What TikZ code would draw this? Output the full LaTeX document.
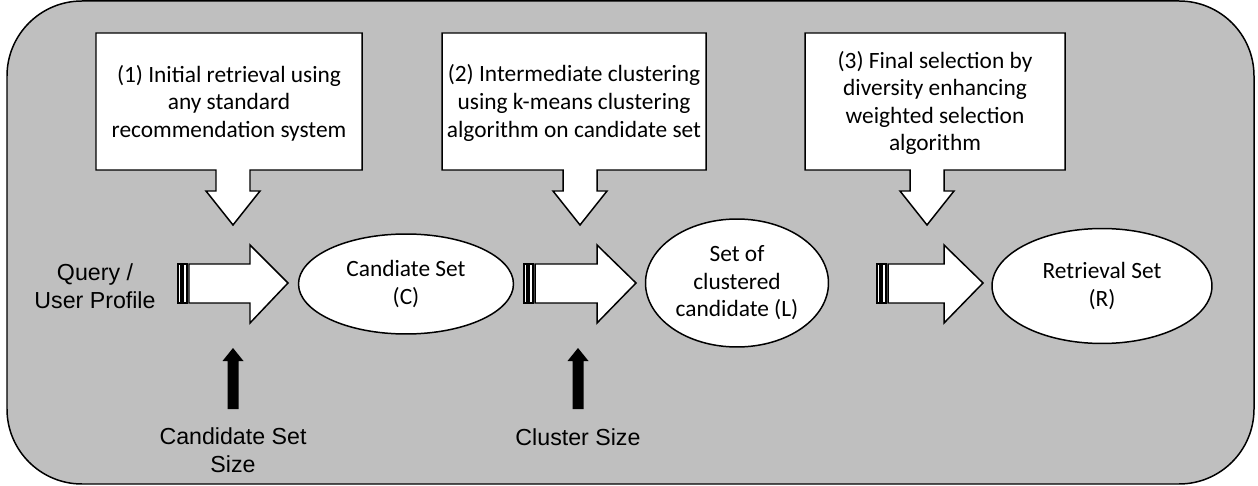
\documentclass[tikz,border=0pt]{standalone}
\usepackage{fontspec}
\setmainfont{Carlito}
\newfontfamily\arialf{Liberation Sans}
\usetikzlibrary{shapes.geometric}
\tikzset{
  outline/.style={draw=black, line width=0.85pt, line join=miter},
  calltext/.style={font=\fontsize{13.3}{15.7}\selectfont, align=center, inner sep=0pt},
  sanstext/.style={font=\arialf\fontsize{13.2}{15.9}\selectfont, align=center, inner sep=0pt},
  setnode/.style={ellipse, outline, fill=white, inner sep=0pt, font=\fontsize{13.3}{15.7}\selectfont, align=center},
  blockarrow/.style={outline, fill=white},
  uparrow/.style={fill=black, draw=none}
}
\begin{document}
\begin{tikzpicture}[x=0.02cm, y=-0.02cm]
\useasboundingbox (0,0) rectangle (1258,486);
% background panel
\draw[outline, fill=black!25!white, rounded corners=1.5cm] (7,1) rectangle (1254,484);

% callouts (box + down arrow)
\foreach \xa/\xb/\cx in {96/362/233, 442/706/580, 805/1065/927}{
  \draw[outline, fill=white] (\xa,33) -- (\xb,33) -- (\xb,170) -- (\cx+17,170) -- (\cx+17,191)
     -- (\cx+27,191) -- (\cx,225) -- (\cx-27,191) -- (\cx-17,191) -- (\cx-17,170) -- (\xa,170) -- cycle;
}
\node[calltext] (c1) at (229,103) {(1) Initial retrieval using\\any standard\\recommendation system};
\node[calltext] (c2) at (574,103) {(2) Intermediate clustering\\using k-means clustering\\algorithm on candidate set};
\node[calltext] (c3) at (935,103) {(3) Final selection by\\diversity enhancing\\weighted selection\\algorithm};

% block arrows with stripes
\foreach \s/\b/\h/\t in {178/189/250/288, 524/535/597/636, 877/888/944/983}{
  \draw[outline, fill=white] (\s,264) rectangle (\s+3,303);
  \draw[outline, fill=white] (\s+5,264) rectangle (\s+9,303);
  \draw[blockarrow] (\b,264) -- (\h,264) -- (\h,245) -- (\t,283) -- (\h,323) -- (\h,303) -- (\b,303) -- cycle;
}

% sets
\node[setnode, minimum width=4.3cm, minimum height=2cm] (C) at (406,284) {Candiate Set\\(C)};
\node[setnode, minimum width=3.66cm, minimum height=2.56cm] (L) at (737,283) {Set of\\clustered\\candidate (L)};
\node[setnode, minimum width=4.4cm, minimum height=2.3cm] (R) at (1102,286) {Retrieval Set\\(R)};

% input label
\node[sanstext] (q) at (95,286) {Query /\\User Profile};

% black up arrows
\foreach \cx in {233,578}{
  \fill (\cx-5.5,409) -- (\cx-5.5,361) -- (\cx-10.5,361) -- (\cx,348) -- (\cx+10.5,361) -- (\cx+5.5,361) -- (\cx+5.5,409) -- cycle;
}
\node[sanstext] (cs) at (233,450) {Candidate Set\\Size};
\node[sanstext] (cl) at (578,437) {Cluster Size};
\end{tikzpicture}
\end{document}
